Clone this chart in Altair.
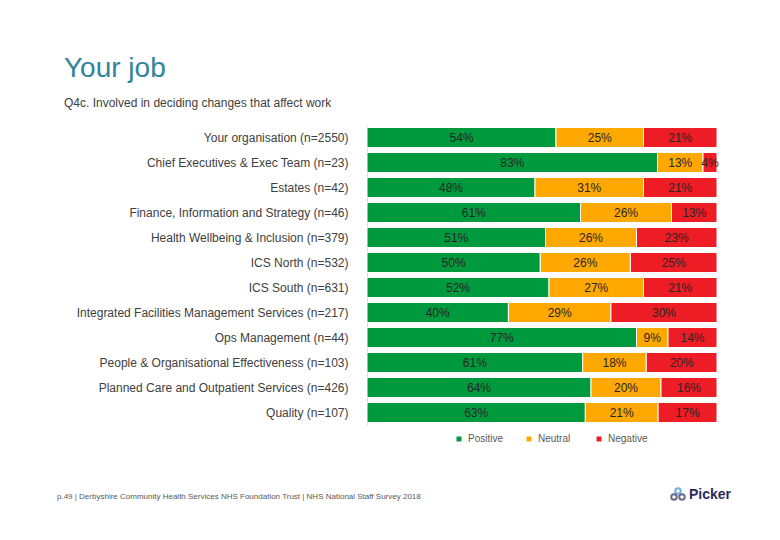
import altair as alt
import pandas as pd

groups = [
    "Your organisation (n=2550)",
    "Chief Executives & Exec Team (n=23)",
    "Estates (n=42)",
    "Finance, Information and Strategy (n=46)",
    "Health Wellbeing & Inclusion (n=379)",
    "ICS North (n=532)",
    "ICS South (n=631)",
    "Integrated Facilities Management Services (n=217)",
    "Ops Management (n=44)",
    "People & Organisational Effectiveness (n=103)",
    "Planned Care and Outpatient Services (n=426)",
    "Quality (n=107)",
]
positive = [54, 83, 48, 61, 51, 50, 52, 40, 77, 61, 64, 63]
neutral = [25, 13, 31, 26, 26, 26, 27, 29, 9, 18, 20, 21]
negative = [21, 4, 21, 13, 23, 25, 21, 30, 14, 20, 16, 17]
categories = ["Positive", "Neutral", "Negative"]
colors = ["#009A3E", "#FFA800", "#EE1C25"]

rows = []
for g, p, n, ng in zip(groups, positive, neutral, negative):
    for i, (c, v) in enumerate(zip(categories, [p, n, ng])):
        rows.append({"group": g, "cat": c, "value": v, "order": i, "label": f"{v}%"})
df = pd.DataFrame(rows)

W, H = 350, 300
FONT = "Liberation Sans"

base = alt.Chart(df).transform_stack(
    stack="value", as_=["x0", "x1"], groupby=["group"],
    sort=[alt.SortField("order")], offset="normalize"
).transform_calculate(mid="(datum.x0 + datum.x1) / 2")

yenc = alt.Y("group:N", sort=groups,
             scale=alt.Scale(paddingInner=0.2, paddingOuter=0.1),
             axis=alt.Axis(title=None, ticks=False, domainColor="#D9D9D9",
                           labelPadding=19, labelFontSize=12, labelColor="#404040",
                           labelFont=FONT, labelLimit=400))

bars = base.mark_bar(stroke="white", strokeWidth=1).encode(
    x=alt.X("x0:Q", axis=None, scale=alt.Scale(domain=[0, 1])),
    x2="x1:Q",
    y=yenc,
    color=alt.Color("cat:N", sort=categories,
                    scale=alt.Scale(domain=categories, range=colors),
                    legend=alt.Legend(title=None, orient="none", direction="horizontal",
                                      legendX=87, legendY=309, symbolType="square",
                                      symbolSize=25, labelFontSize=10, labelColor="#595959",
                                      labelFont=FONT, columnPadding=16, gridAlign="all",
                                      labelOffset=4, symbolStrokeWidth=0)),
)

texts = base.mark_text(fontSize=12, font=FONT, color="#262626").encode(
    x=alt.X("mid:Q", scale=alt.Scale(domain=[0, 1])),
    y=alt.Y("group:N", sort=groups),
    text="label:N",
)

title_df = pd.DataFrame({"t": ["Your job"]})
title = alt.Chart(title_df).mark_text(fontSize=28, font=FONT, color="#31849B",
                                      align="left", baseline="alphabetic").encode(
    x=alt.value(-303), y=alt.value(-48), text="t:N")

sub_df = pd.DataFrame({"t": ["Q4c. Involved in deciding changes that affect work"]})
sub = alt.Chart(sub_df).mark_text(fontSize=12, font=FONT, color="#404040",
                                  align="left", baseline="alphabetic").encode(
    x=alt.value(-303), y=alt.value(-18), text="t:N")

foot_df = pd.DataFrame({"t": ["p.49 | Derbyshire Community Health Services NHS Foundation Trust | NHS National Staff Survey 2018"]})
foot = alt.Chart(foot_df).mark_text(fontSize=8, font=FONT, color="#595959",
                                    align="left", baseline="middle").encode(
    x=alt.value(-310), y=alt.value(372), text="t:N")

logo_df = pd.DataFrame({"t": ["Picker"]})
logo = alt.Chart(logo_df).mark_text(fontSize=14, font=FONT, fontWeight="bold",
                                    color="#2B2A5C", align="left", baseline="middle").encode(
    x=alt.value(322), y=alt.value(370), text="t:N")

icon1 = alt.Chart(pd.DataFrame({"k": ["a"]})).mark_point(
    shape="circle", size=30, filled=False, strokeWidth=2, color="#2B2A5C").encode(
    x=alt.value(307), y=alt.value(372))
icon2 = alt.Chart(pd.DataFrame({"k": ["b"]})).mark_point(
    shape="circle", size=30, filled=False, strokeWidth=2, color="#2B2A5C").encode(
    x=alt.value(315), y=alt.value(372))
icon3 = alt.Chart(pd.DataFrame({"k": ["c"]})).mark_point(
    shape="circle", size=30, filled=False, strokeWidth=2, color="#3A8FD0").encode(
    x=alt.value(311), y=alt.value(366))

chart = alt.layer(bars, texts, title, sub, foot, logo, icon3, icon1, icon2).properties(
    width=W, height=H,
    autosize=alt.AutoSizeParams(type="none"),
    padding={"left": 359, "top": 117, "right": 55, "bottom": 107},
    background="white",
).configure_view(stroke=None)

chart.save("out.html", embed_options={"renderer": "svg", "actions": False})
